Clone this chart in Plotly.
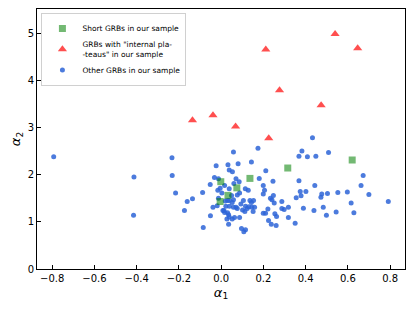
import plotly.graph_objects as go

# Short GRBs
short_a1 = [-0.002, -0.005, 0.032, 0.074, 0.136, 0.315, 0.620]
short_a2 = [1.85, 1.43, 1.56, 1.72, 1.92, 2.14, 2.31]

# GRBs with internal plateaus
plat_a1 = [-0.136, -0.039, 0.068, 0.225, 0.211, 0.276, 0.473, 0.539, 0.646]
plat_a2 = [3.15, 3.26, 3.02, 2.77, 4.65, 3.79, 3.47, 4.98, 4.68]

# Other GRBs
other_a1 = [-0.793, -0.413, -0.415, -0.233, -0.232, -0.216, -0.161, -0.136, -0.174, -0.088,
            -0.051, -0.085, -0.039, -0.024, -0.032, -0.052, -0.013, 0.016, -0.016, -0.005,
            0.032, 0.038, 0.003, 0.008, 0.016, -0.019, 0.022, 0.035, 0.027, 0.035,
            0.030, 0.038, 0.432, 0.174, 0.058, 0.382, 0.368, 0.408, 0.448, 0.508,
            0.080, 0.143, 0.053, 0.211, 0.180, 0.245, 0.368, 0.443, 0.672, 0.662,
            0.699, 0.791, 0.060, 0.085, 0.070, 0.114, 0.128, 0.199, 0.205, 0.247,
            0.233, 0.240, 0.199, 0.076, 0.087, 0.049, 0.058, 0.052, 0.038, -0.013,
            0.019, 0.039, 0.070, 0.093, 0.105, 0.115, 0.136, 0.153, 0.143, 0.145,
            0.131, 0.158, 0.123, 0.101, 0.076, 0.058, 0.013, 0.030, 0.038, 0.052,
            0.063, 0.087, 0.112, 0.151, 0.199, 0.210, 0.254, 0.221, 0.287, 0.318,
            0.287, 0.298, 0.251, 0.318, 0.350, 0.224, 0.237, 0.260, 0.389, 0.355,
            0.378, 0.374, 0.401, 0.472, 0.476, 0.503, 0.552, 0.597, 0.615, 0.483,
            0.439, 0.544, 0.498, 0.628, 0.096, 0.115, 0.107, 0.262]
other_a2 = [2.38, 1.95, 1.14, 2.36, 1.98, 1.61, 1.43, 1.49, 1.24, 1.62,
            1.13, 0.88, 1.31, 2.19, 1.94, 1.79, 1.91, 1.77, 1.67, 1.71,
            2.21, 2.10, 1.61, 1.24, 1.20, 1.34, 1.33, 0.95, 1.06, 1.15,
            1.45, 1.70, 2.78, 2.56, 2.48, 2.50, 2.39, 2.38, 2.39, 2.47,
            2.23, 2.27, 2.06, 2.08, 1.92, 1.86, 1.87, 1.77, 1.98, 1.77,
            1.58, 1.43, 1.81, 1.85, 1.91, 1.70, 1.67, 1.77, 1.67, 1.56,
            1.50, 1.47, 1.59, 1.57, 1.61, 1.56, 1.47, 1.41, 1.45, 1.50,
            1.44, 1.33, 1.31, 1.38, 1.45, 1.33, 1.45, 1.45, 1.41, 1.31,
            1.32, 1.31, 1.28, 1.25, 1.28, 1.31, 1.24, 1.19, 1.10, 1.06,
            1.09, 1.09, 1.22, 1.22, 1.18, 1.18, 1.17, 1.27, 1.43, 1.31,
            1.28, 1.26, 1.40, 1.09, 0.97, 1.03, 0.95, 0.92, 1.29, 1.51,
            1.55, 1.64, 1.64, 1.52, 1.59, 1.60, 1.62, 1.63, 1.40, 1.31,
            1.24, 1.21, 1.14, 1.19, 0.86, 0.83, 0.79, 1.11]

x_ticks = [-0.8, -0.6, -0.4, -0.2, 0.0, 0.2, 0.4, 0.6, 0.8]
x_tick_labels = ["\u22120.8", "\u22120.6", "\u22120.4", "\u22120.2", "0.0", "0.2", "0.4", "0.6", "0.8"]
y_ticks = [0, 1, 2, 3, 4, 5]

fig = go.Figure()
fig.add_trace(go.Scatter(
    x=other_a1, y=other_a2, mode="markers", name="Other GRBs in our sample",
    marker=dict(symbol="circle", size=5, color="rgba(45,100,215,0.85)", line=dict(width=0)),
    legendrank=3))
fig.add_trace(go.Scatter(
    x=short_a1, y=short_a2, mode="markers", name="Short GRBs in our sample",
    marker=dict(symbol="square", size=7, color="rgba(0,128,0,0.55)", line=dict(width=0)),
    legendrank=1))
fig.add_trace(go.Scatter(
    x=plat_a1, y=plat_a2, mode="markers", name="GRBs with \"internal pla-<br>-teaus\" in our sample",
    marker=dict(symbol="triangle-up", size=8, color="rgba(255,20,20,0.75)", line=dict(width=0)),
    legendrank=2))

axis_common = dict(showline=True, linecolor="black", linewidth=1, mirror=True,
                   ticks="inside", ticklen=4, tickcolor="black", showgrid=False,
                   zeroline=False, automargin=False,
                   tickfont=dict(family="DejaVu Sans", size=10, color="black"))

fig.update_xaxes(range=[-0.872, 0.870], tickvals=x_ticks, ticktext=x_tick_labels,
                 title=dict(text="<i>α</i><sub>1</sub>", font=dict(family="DejaVu Sans", size=13, color="black"),
                            standoff=4),
                 **axis_common)
fig.update_yaxes(range=[0, 5.51], tickvals=y_ticks,
                 title=dict(text="<i>α</i><sub>2</sub>", font=dict(family="DejaVu Sans", size=13, color="black"),
                            standoff=6),
                 **axis_common)

fig.update_layout(
    width=407, height=303,
    margin=dict(l=29, r=10, t=1, b=42),
    plot_bgcolor="white", paper_bgcolor="white",
    showlegend=True,
    legend=dict(x=0.012, y=0.985, xanchor="left", yanchor="top",
                bgcolor="rgba(255,255,255,0.9)", bordercolor="#d0d0d0", borderwidth=1,
                font=dict(family="DejaVu Sans", size=7.5, color="black"),
                itemsizing="trace", tracegroupgap=0, itemwidth=30),
)

fig.write_html("out.html")
